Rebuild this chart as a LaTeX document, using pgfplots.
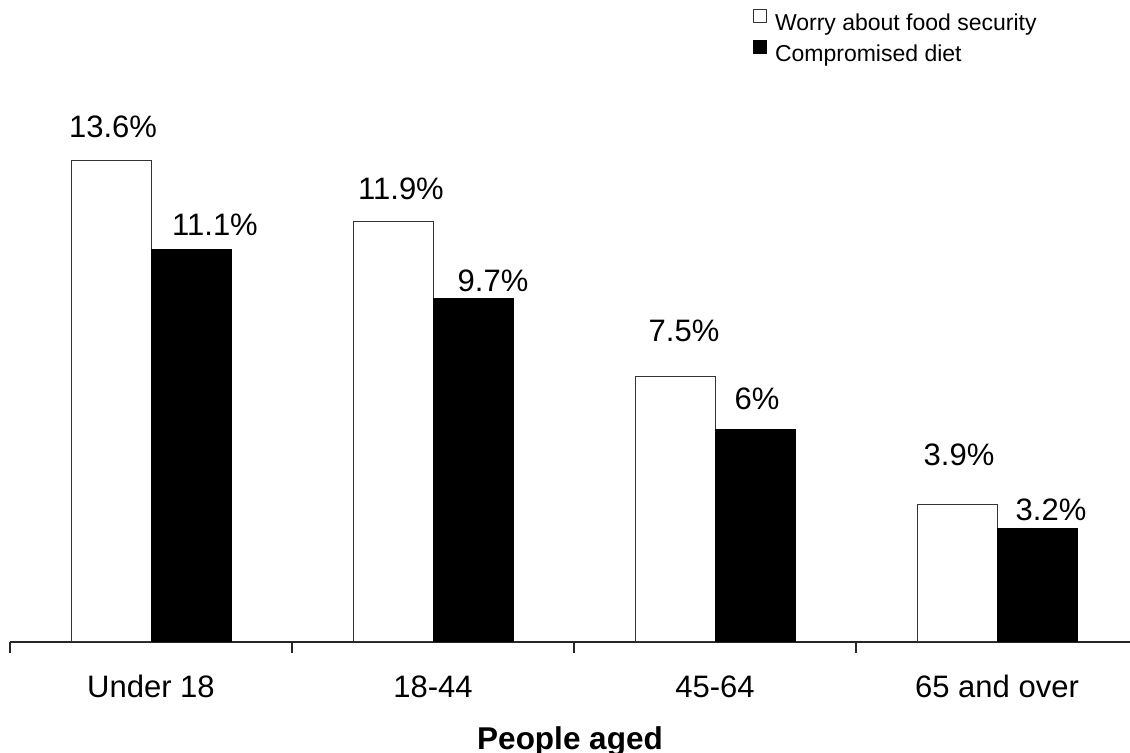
\documentclass[border=0pt]{standalone}
\usepackage{fontspec}
\setmainfont{Liberation Sans}
\usepackage{pgfplots}
\pgfplotsset{compat=1.18}
\begin{document}
\begin{tikzpicture}
\begin{axis}[
  at={(5pt,55.5pt)}, anchor=south west,
  scale only axis, width=560pt, height=318.33pt,
  xmin=-0.5, xmax=3.4716, ymin=0, ymax=18,
  clip=false,
  axis x line*=bottom, hide y axis,
  axis line style={black!85, line width=0.6pt},
  xtick={0,1,2,3},
  xticklabels={Under 18,18-44,45-64,65 and over},
  major tick length=0pt,
  extra x ticks={-0.5,0.5,1.5,2.5},
  extra x tick labels={},
  extra x tick style={major tick length=5.5pt, tick align=outside, tick style={black!85, line width=0.6pt}},
  xticklabel style={anchor=base, yshift=-28pt, font=\fontsize{15.5}{18}\selectfont},
  xlabel={People aged},
  xlabel style={at={(axis description cs:0.5,0)}, anchor=base, yshift=-54pt, font=\bfseries\fontsize{15.75}{18}\selectfont},
  legend cell align=left,
  legend style={at={(axis description cs:0.66295,0.99425)}, anchor=north west, draw=none, fill=none,
    inner sep=0pt, outer sep=0pt, row sep=2.5pt, column sep=4.25pt,
    nodes={inner sep=0pt, text height=8.5pt, text depth=2.5pt, font=\fontsize{11.5}{13}\selectfont}},
]
\addplot[ybar, bar width=40pt, bar shift=-20pt, fill=white, draw=black!80, line width=0.5pt,
  point meta=explicit symbolic,
  nodes near coords={\pgfplotspointmeta\%},
  visualization depends on={\thisrow{dx} \as \dx},
  visualization depends on={\thisrow{dy} \as \dy},
  every node near coord/.append style={anchor=base, xshift=\dx pt, yshift=\dy pt, text=black, fill=none, draw=none, font=\fontsize{15.5}{18}\selectfont},
  legend image code/.code={\draw[fill=white, draw=black!80, line width=0.5pt] (0pt,1pt) rectangle (6.5pt,7.5pt);},
] table[x=x, y=y, meta=lab] {
x y lab dx dy
0 13.6 13.6 -19 11.5
1 11.9 11.9 -16 11
2 7.5 7.5 -15.5 17.5
3 3.9 3.9 -19 19.5
};
\addlegendentry{Worry about food security}
\addplot[ybar, bar width=40pt, bar shift=20pt, fill=black, draw=black, line width=0.5pt,
  point meta=explicit symbolic,
  nodes near coords={\pgfplotspointmeta\%},
  visualization depends on={\thisrow{dx} \as \dx},
  visualization depends on={\thisrow{dy} \as \dy},
  every node near coord/.append style={anchor=base, xshift=\dx pt, yshift=\dy pt, text=black, fill=none, draw=none, font=\fontsize{15.5}{18}\selectfont},
  legend image code/.code={\draw[fill=black, draw=black, line width=0.5pt] (0pt,1pt) rectangle (6.5pt,7.5pt);},
] table[x=x, y=y, meta=lab] {
x y lab dx dy
0 11.1 11.1 32 7
1 9.7 9.7 30 3.5
2 6 6 21 10
3 3.2 3.2 27 4
};
\addlegendentry{Compromised diet}
\end{axis}
\pgfresetboundingbox
\useasboundingbox (0,0) rectangle (565pt,376.5pt);
\end{tikzpicture}
\end{document}
